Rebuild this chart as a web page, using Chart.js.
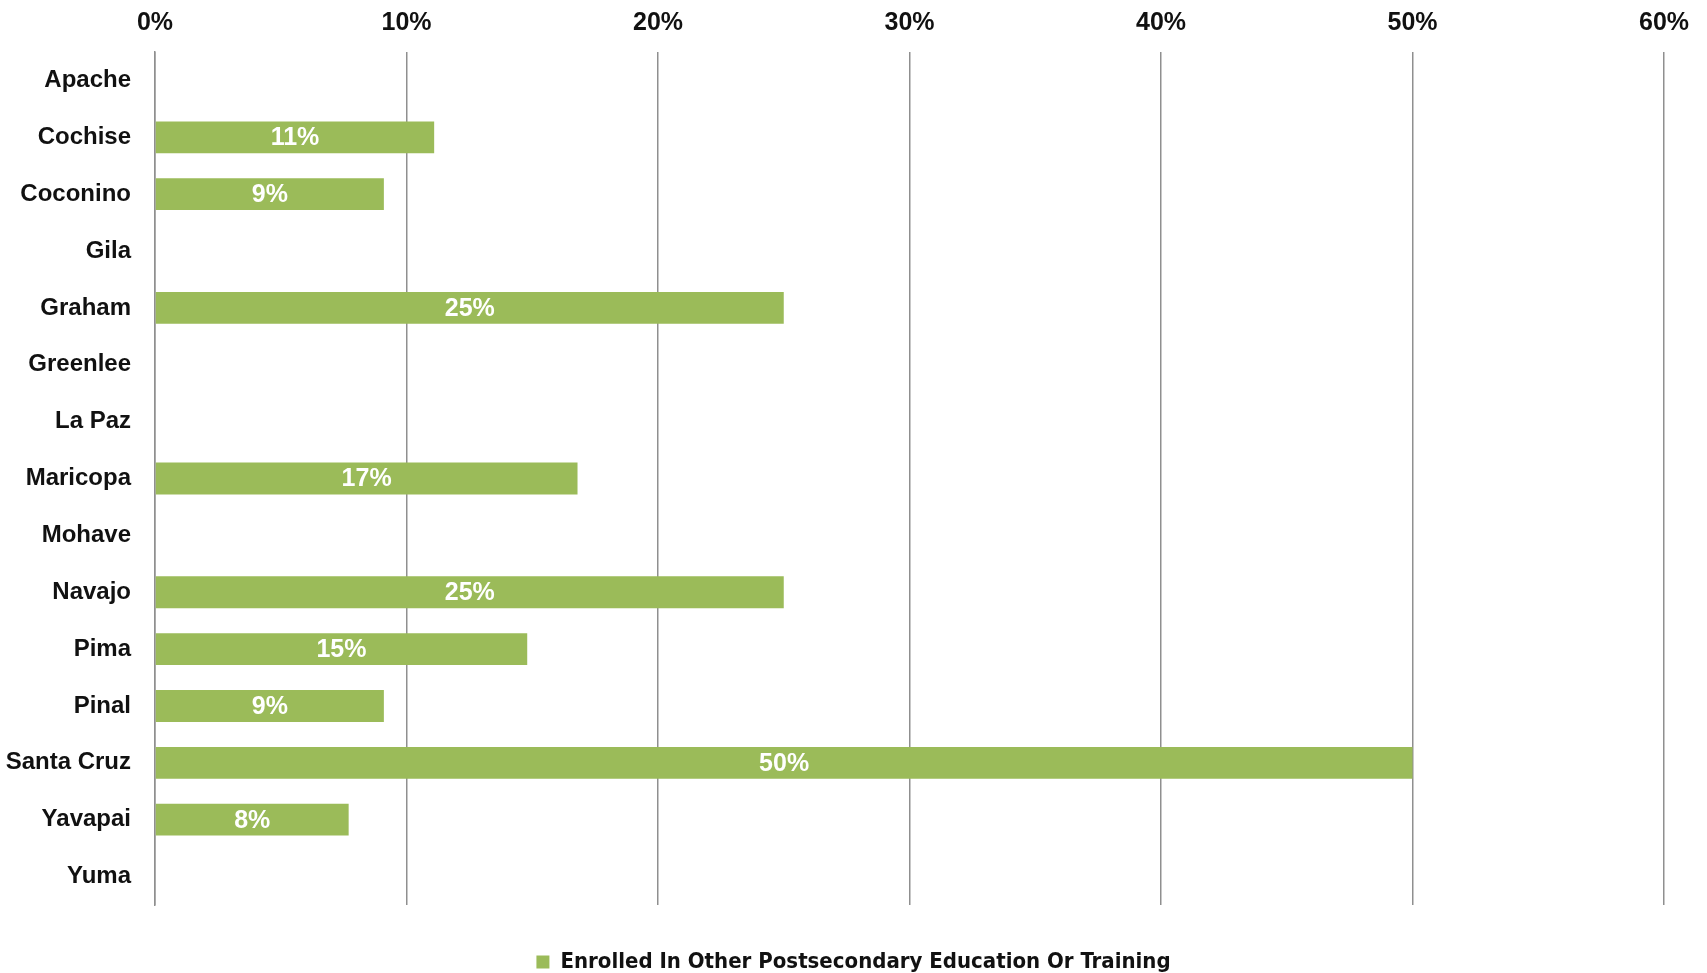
<!DOCTYPE html>
<html>
<head>
<meta charset="utf-8">
<script src="https://cdn.jsdelivr.net/npm/chart.js@4"></script>
<style>
  html, body { margin: 0; padding: 0; background: #fff; }
  #wrap { width: 1707px; height: 973px; }
</style>
</head>
<body>
<div id="wrap"><canvas id="enrolledChart" width="1707" height="973"></canvas></div>
<script>
const counties = ["Apache", "Cochise", "Coconino", "Gila", "Graham", "Greenlee", "La Paz",
    "Maricopa", "Mohave", "Navajo", "Pima", "Pinal", "Santa Cruz", "Yavapai", "Yuma"];
const enrolledOther = [null, 11.1, 9.1, null, 25.0, null, null, 16.8, null, 25.0, 14.8, 9.1, 50.0, 7.7, null];
const xTicks = [0, 10, 20, 30, 40, 50, 60];

const barColor = "#9BBB59";
const gridColor = "#8F8F8F";

// white percentage labels in the middle of each bar
const barLabels = {
    id: "barLabels",
    afterDatasetsDraw(chart) {
        const ctx = chart.ctx;
        const meta = chart.getDatasetMeta(0);
        ctx.save();
        ctx.fillStyle = "#ffffff";
        ctx.font = "bold 25px 'Liberation Sans', Arial, sans-serif";
        ctx.textAlign = "center";
        ctx.textBaseline = "middle";
        meta.data.forEach((bar, i) => {
            const v = enrolledOther[i];
            if (v === null) return;
            const { x, y, base } = bar.getProps(["x", "y", "base"], true);
            ctx.fillText(Math.round(v) + "%", (x + base) / 2, y + 1);
        });
        ctx.restore();
    }
};

const ctx = document.getElementById("enrolledChart").getContext("2d");
new Chart(ctx, {
    type: "bar",
    data: {
        labels: counties,
        datasets: [
            {
                label: "Enrolled In Other Postsecondary Education Or Training",
                data: enrolledOther,
                backgroundColor: barColor,
                borderWidth: 0,
                categoryPercentage: 1,
                barPercentage: 0.56,
            },
        ],
    },
    options: {
        indexAxis: "y",
        responsive: false,
        animation: false,
        layout: { padding: { left: 0, right: 0, top: 0, bottom: -10 } },
        plugins: {
            tooltip: { enabled: false },
            legend: {
                position: "bottom",
                labels: {
                    color: "#111",
                    font: { family: "'DejaVu Sans Condensed', 'Liberation Sans Narrow', sans-serif", size: 22, weight: "bold" },
                    boxWidth: 13,
                    boxHeight: 13,
                    padding: 4,
                },
            },
        },
        scales: {
            x: {
                position: "top",
                min: 0,
                max: 60,
                afterBuildTicks: (axis) => { axis.ticks = xTicks.map((v) => ({ value: v })); },
                afterFit: (axis) => { axis.height = 52; axis.paddingRight = 43; },
                ticks: {
                    color: "#111",
                    padding: 14,
                    font: { family: "'Liberation Sans', Arial, sans-serif", size: 25, weight: "bold" },
                    callback: (v) => v + "%",
                },
                grid: { color: gridColor, lineWidth: 1.5, drawTicks: false },
                border: { display: false },
            },
            // empty strip that keeps the legend away from the plot
            gap: {
                type: "linear",
                axis: "x",
                position: "bottom",
                display: true,
                afterFit: (axis) => { axis.height = 42; },
                ticks: { display: false },
                grid: { display: false, drawTicks: false },
                border: { display: false },
            },
            y: {
                afterFit: (axis) => { axis.width = 155; },
                ticks: {
                    color: "#111",
                    padding: 24,
                    font: { family: "'Liberation Sans', Arial, sans-serif", size: 24, weight: "bold" },
                },
                grid: { display: false, drawTicks: false },
                border: { display: true, color: gridColor, width: 1.5 },
            },
        },
    },
    plugins: [barLabels],
});
</script>
</body>
</html>
